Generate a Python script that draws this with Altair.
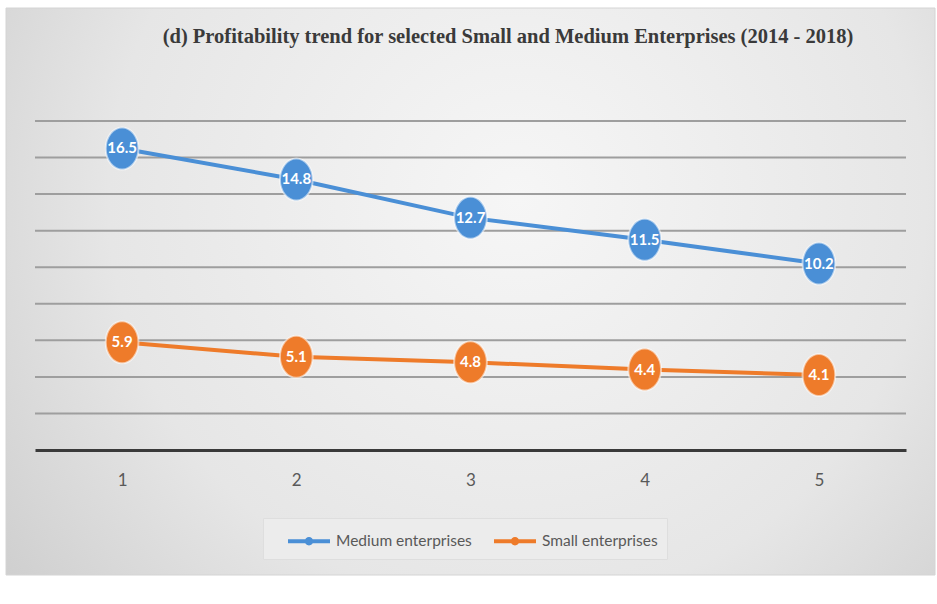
import altair as alt
import pandas as pd

# Periods (1 = 2014 ... 5 = 2018) and profitability per enterprise group
periods = [1, 2, 3, 4, 5]
medium_values = [16.5, 14.8, 12.7, 11.5, 10.2]
small_values = [5.9, 5.1, 4.8, 4.4, 4.1]
series_names = ["Medium enterprises", "Small enterprises"]
series_colors = ["#4a8fd6", "#ee7b2a"]
y_grid_values = [2, 4, 6, 8, 10, 12, 14, 16, 18]
title_text = "(d) Profitability trend for  selected Small and Medium Enterprises (2014 - 2018)"

df = pd.DataFrame({
    "period": periods * 2,
    "value": medium_values + small_values,
    "series": [series_names[0]] * len(periods) + [series_names[1]] * len(periods),
})

W, H = 871, 329

# Tall ellipse used as the data marker; a wide bar with a dot for the legend
ellipse_path = "M0,-1 A0.78,1 0 1,1 0,1 A0.78,1 0 1,1 0,-1 Z"
legend_path = ("M-1.5,-0.14 L1.5,-0.14 L1.5,0.14 L-1.5,0.14 Z "
               "M-0.3,0 A0.3,0.3 0 1,1 0.3,0 A0.3,0.3 0 1,1 -0.3,0 Z")

y_scale = alt.Scale(domain=[0, 18], nice=False)
x_enc = alt.X(
    "period:O",
    scale=alt.Scale(type="point", padding=0.5),
    axis=alt.Axis(
        title=None, labelAngle=0, ticks=False, grid=False, zindex=1,
        domainColor="#3a3a3a", domainWidth=3,
        labelFont="Lato", labelFontSize=17, labelColor="#595959", labelPadding=22,
    ),
)
y_enc = alt.Y("value:Q", scale=y_scale, axis=None)
color_scale = alt.Scale(domain=series_names, range=series_colors)
# Line colours follow the sorted series names (Medium, Small)
stroke_scale = alt.Scale(range=series_colors)

background = alt.Chart(pd.DataFrame({"k": [0]})).mark_rect(
    fill=alt.RadialGradient(
        gradient="radial",
        stops=[
            alt.GradientStop(color="#f6f6f6", offset=0),
            alt.GradientStop(color="#e6e6e6", offset=0.55),
            alt.GradientStop(color="#c4c4c4", offset=1),
        ],
        x1=0.55, y1=0.4, x2=0.55, y2=0.4, r1=0, r2=0.8,
    ),
    stroke="#d4d4d4", strokeWidth=1,
).encode(x=alt.value(-29), x2=alt.value(900), y=alt.value(-113), y2=alt.value(454))

# Horizontal gridlines every 2 units
grid = alt.Chart(pd.DataFrame({"g": y_grid_values})).mark_rule(
    color="#9e9e9e", strokeWidth=2,
).encode(y=alt.Y("g:Q", scale=y_scale, axis=None))

lines = alt.Chart(df).mark_line(strokeWidth=4).encode(
    x=x_enc, y=y_enc,
    stroke=alt.Stroke("series:N", scale=stroke_scale, legend=None),
    detail="series:N",
)

points = alt.Chart(df).mark_point(
    filled=True, shape=ellipse_path, size=1764, opacity=1,
    stroke="white", strokeOpacity=0.55, strokeWidth=2,
).encode(
    x=x_enc, y=y_enc,
    color=alt.Color(
        "series:N", scale=color_scale,
        legend=alt.Legend(
            title=None, orient="none", direction="horizontal",
            legendX=228, legendY=397, zindex=1,
            symbolType=legend_path, symbolSize=784, symbolStrokeWidth=0, symbolOpacity=1,
            symbolOffset=23,
            fillColor="#ececec", strokeColor="#dedede", padding=9,
            labelFont="Lato", labelFontSize=15.5, labelColor="#595959",
            labelOffset=13, columnPadding=6,
        ),
    ),
)

labels = alt.Chart(df).mark_text(
    color="white", font="Lato", fontWeight="bold", fontSize=15,
).encode(x=x_enc, y=y_enc, text=alt.Text("value:Q", format=".1f"))

title_mark = alt.Chart(pd.DataFrame({"t": [title_text]})).mark_text(
    font="Liberation Serif", fontWeight="bold", fontSize=20.5, color="#3a3a3a",
    align="center", baseline="middle",
).encode(x=alt.value(473), y=alt.value(-84), text="t:N")

chart = alt.layer(background, grid, lines, points, labels, title_mark).properties(
    width=W, height=H,
    autosize=alt.AutoSizeParams(type="none"),
    padding={"left": 35, "top": 121, "right": 31, "bottom": 154},
).configure_view(stroke=None).configure(background="white")

chart.save("out.html", embed_options={"renderer": "svg", "actions": False})
